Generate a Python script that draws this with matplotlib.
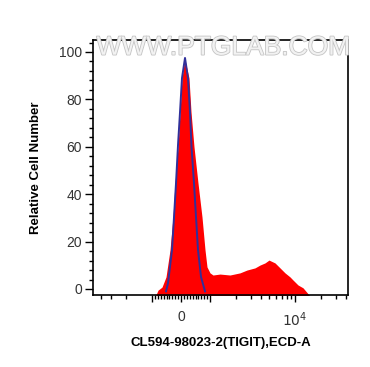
import matplotlib.pyplot as plt
import matplotlib.patheffects as pe
from matplotlib.ticker import MultipleLocator

plt.rcParams['font.family'] = ['Liberation Sans', 'DejaVu Sans']

# red histogram (TIGIT stained), x in channel units, y = relative cell number
red_x = [-880, -793, -655, -517, -379, -276, -207, -103, -34, 34, 110, 150,
         276, 345, 448, 586, 724, 828, 897, 1000, 1085, 1311, 1719,
         2254, 2725, 3383, 3875, 4437, 4944, 5818, 6664, 7628, 8733, 9468, 10845,
         12420, 15010]
red_y = [-3, -0.5, 0.8, 5.1, 16.5, 30.4, 44.7, 60, 74.7, 89, 95.5, 96,
         89, 74.7, 60, 44.7, 30.4, 16.5, 9.3, 6.8, 5.9, 6.3, 5.9,
         6.8, 8, 8.9, 10.1, 11, 12.2, 11, 8.9, 6.8, 5.1, 3.8, 1.7,
         0.5, -3]

# blue line (isotype control)
blue_x = [-517, -448, -310, -241, -172, -103, -34, 34, 138, 241, 310, 362,
          448, 517, 586, 690, 828]
blue_y = [-1, 2.5, 16.5, 30.4, 44.7, 60.8, 74.7, 89, 97.5, 89, 74.7, 60,
          44.7, 30.4, 16.5, 5.1, -1]

major_x = [-1000, 0, 1000, 10000]
major_labels = ['', '0', '', '$10^4$']
minor_x = [-4000, -3000, -2000] + list(range(-900, 0, 100)) + list(range(100, 1000, 100)) \
    + list(range(2000, 10000, 1000)) + [20000, 30000, 40000]

fig = plt.figure(figsize=(3.70, 3.67), dpi=100)
ax = fig.add_axes([0.2514, 0.1962, 0.6892, 0.6948])

ax.set_xscale('symlog', linthresh=1000, linscale=0.307)
ax.fill_between(red_x, red_y, -5, color='#ff0000', linewidth=0)
ax.plot(blue_x, blue_y, color='#30309a', linewidth=1.4)

ax.set_xlim(-4944, 42060)
ax.set_ylim(-2.53, 105.06)

ax.set_xticks(major_x)
ax.set_xticklabels(major_labels)
ax.set_xticks(minor_x, minor=True)
ax.set_yticks([0, 20, 40, 60, 80, 100])
ax.yaxis.set_minor_locator(MultipleLocator(4))

ax.tick_params(axis='both', which='major', direction='out', length=5, width=1,
               labelsize=10, colors='black')
ax.tick_params(axis='both', which='minor', direction='out', length=3, width=1)
ax.tick_params(axis='y', which='major', length=6, pad=2)
ax.tick_params(axis='x', which='major', pad=6)
for lab in ax.get_xticklabels() + ax.get_yticklabels():
    lab.set_color('#333333')

for s in ax.spines.values():
    s.set_linewidth(1.2)

ax.set_ylabel('Relative Cell Number', fontsize=9.5, fontweight='bold', labelpad=12)
ax.set_xlabel('CL594-98023-2(TIGIT),ECD-A', fontsize=9.5, fontweight='bold', labelpad=6)

ax.text(0.51, 0.97, 'WWW.PTGLAB.COM', transform=ax.transAxes, ha='center', va='center',
        fontsize=19, color='#f2f2f2', clip_on=False, zorder=5,
        path_effects=[pe.withStroke(linewidth=1.2, foreground='#c4c4c4')])

fig.savefig('out.png', dpi=100)
